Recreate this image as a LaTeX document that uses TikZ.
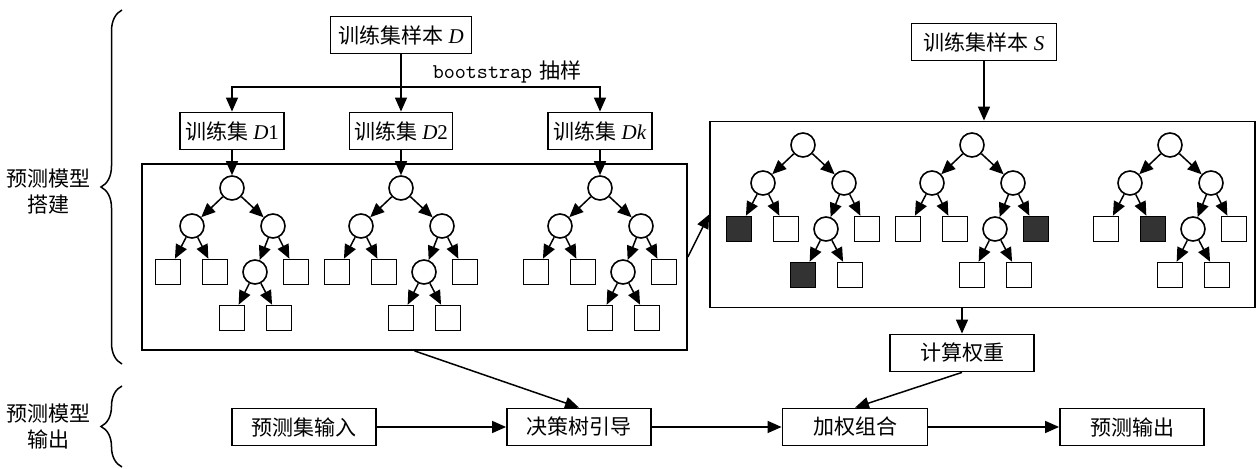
\documentclass[tikz,border=0pt]{standalone}
\usepackage{fontspec}
\setmainfont{Liberation Serif}
\newfontfamily\cjk{Noto Sans CJK SC}
\usetikzlibrary{arrows.meta,decorations.pathreplacing}

\tikzset{
  box/.style={draw, line width=0.9pt, minimum height=18.5pt, inner sep=1pt},
  bigbox/.style={draw, line width=0.9pt, minimum width=272.5pt, minimum height=93pt},
  dnode/.style={draw, circle, line width=0.8pt, minimum size=12pt, inner sep=0pt},
  leaf/.style={draw, rectangle, line width=0.8pt, minimum size=12.5pt, inner sep=0pt},
  dleaf/.style={leaf, fill=black!80},
  arr/.style={-{Triangle[length=7pt,width=6pt]}, line width=0.75pt},
}

\newcommand{\dtree}[7]{%
  \begin{scope}[shift={(#2)}]
    \node[dnode] (#1r) at (0, 0) {};
    \node[dnode] (#1a) at (-40, 38) {};
    \node[dnode] (#1b) at (41, 38) {};
    \node[#3] (#1aa) at (-64, 84) {};
    \node[#4] (#1ab) at (-17, 84) {};
    \node[dnode] (#1ba) at (23, 84) {};
    \node[#5] (#1bb) at (64, 84) {};
    \node[#6] (#1baa) at (0, 130) {};
    \node[#7] (#1bab) at (47, 130) {};
    \draw [arr] (#1r) -- (#1a);
    \draw [arr] (#1r) -- (#1b);
    \draw [arr] (#1a) -- (#1aa);
    \draw [arr] (#1a) -- (#1ab);
    \draw [arr] (#1b) -- (#1ba);
    \draw [arr] (#1b) -- (#1bb);
    \draw [arr] (#1ba) -- (#1baa);
    \draw [arr] (#1ba) -- (#1bab);
  \end{scope}}

\begin{document}
\begin{tikzpicture}[x=0.5pt, y=-0.5pt, font=\fontsize{10.5pt}{13pt}\selectfont]
    \useasboundingbox (0, 0) rectangle (1260, 469);
    \node (build) at (48, 192) [align=center] {{\cjk 预测模型}\\{\cjk 搭建}};
    \node (predict) at (48, 427) [align=center] {{\cjk 预测模型}\\{\cjk 输出}};
    \draw [decorate, decoration={brace, amplitude=10.5pt}, line width=0.75pt] (122, 364) -- (122, 10);
    \draw [decorate, decoration={brace, amplitude=10.5pt}, line width=0.75pt] (122, 467) -- (122, 386);
    \node[box, minimum width=70.5pt] (sampD) at (401, 35) {{\cjk 训练集样本} \textit{D}};
    \node[box, minimum width=52pt] (d1) at (232, 131) {{\cjk 训练集} \textit{D}1};
    \node[box, minimum width=51.5pt] (d2) at (401, 131) {{\cjk 训练集} \textit{D}2};
    \node[box, minimum width=52pt] (dk) at (600, 131) {{\cjk 训练集} \textit{Dk}};
    \node (boot) at (507, 72) {\ttfamily bootstrap\hspace{3.5pt}{\cjk 抽样}};
    \coordinate (split) at (401, 87);
    \node[bigbox] (lbox) at (414.5, 257) {};
    \node[bigbox] (rbox) at (982.5, 214.5) {};
    \node[box, minimum width=72.5pt] (sampS) at (984, 42) {{\cjk 训练集样本} \textit{S}};
    \node[box, minimum width=72pt] (calc) at (962, 353) {\cjk 计算权重};
    \node[box, minimum width=72pt] (input) at (304, 427) {\cjk 预测集输入};
    \node[box, minimum width=72pt] (guide) at (579, 427) {\cjk 决策树引导};
    \node[box, minimum width=72.5pt] (comb) at (855, 427) {\cjk 加权组合};
    \node[box, minimum width=72pt] (out) at (1132, 427) {\cjk 预测输出};
    \dtree{p}{232, 188}{leaf}{leaf}{leaf}{leaf}{leaf}
    \dtree{q}{401, 188}{leaf}{leaf}{leaf}{leaf}{leaf}
    \dtree{s}{600, 188}{leaf}{leaf}{leaf}{leaf}{leaf}
    \dtree{u}{803, 145}{dleaf}{leaf}{leaf}{dleaf}{leaf}
    \dtree{v}{972, 145}{leaf}{leaf}{dleaf}{leaf}{leaf}
    \dtree{w}{1170, 145}{leaf}{dleaf}{leaf}{leaf}{leaf}
    \draw [line width=0.75pt] (sampD) -- (split);
    \draw [arr] (split) -- (d2);
    \draw [arr] (split) -| (d1);
    \draw [arr] (split) -| (dk);
    \draw [arr] (d1) -- (pr);
    \draw [arr] (d2) -- (qr);
    \draw [arr] (dk) -- (sr);
    \draw [arr] (sampS) -- (sampS |- rbox.north);
    \draw [arr] (lbox.east) -- (rbox.west);
    \draw [arr] (calc.north |- rbox.south) -- (calc);
    \draw [arr] (lbox.south) -- (guide.north);
    \draw [arr] (calc.south) -- (comb.north);
    \draw [arr] (input) -- (guide);
    \draw [arr] (guide) -- (comb);
    \draw [arr] (comb) -- (out);
\end{tikzpicture}
\end{document}
